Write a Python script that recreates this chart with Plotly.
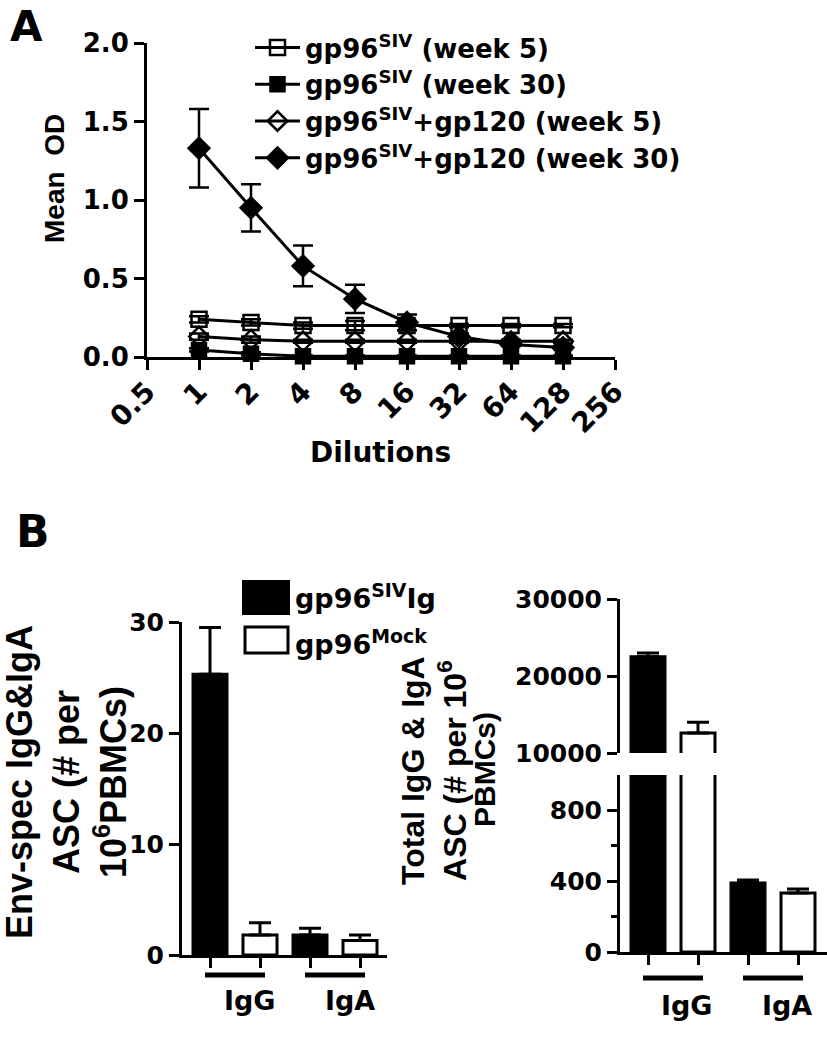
import math
import plotly.graph_objects as go

# ---------------- Panel A data ----------------
dilutions = [1, 2, 4, 8, 16, 32, 64, 128]
x_tickvals = [0.5, 1, 2, 4, 8, 16, 32, 64, 128, 256]
x_ticktext = ["0.5", "1", "2", "4", "8", "16", "32", "64", "128", "256"]
y_tickvals_a = [0.0, 0.5, 1.0, 1.5, 2.0]

siv_w5 = [0.24, 0.22, 0.20, 0.20, 0.20, 0.20, 0.20, 0.20]
siv_w5_err = [0.02, 0.02, 0.02, 0.03, 0.03, 0.01, 0.01, 0.01]
siv_w30 = [0.045, 0.02, 0.005, 0.005, 0.005, 0.005, 0.005, 0.005]
siv_w30_err = [0.01, 0.01, 0.005, 0.005, 0.005, 0.005, 0.005, 0.005]
gp120_w5 = [0.13, 0.11, 0.10, 0.10, 0.10, 0.10, 0.10, 0.10]
gp120_w5_err = [0.02, 0.02, 0.01, 0.01, 0.01, 0.01, 0.01, 0.01]
gp120_w30 = [1.33, 0.95, 0.58, 0.37, 0.22, 0.13, 0.08, 0.06]
gp120_w30_err = [0.25, 0.15, 0.13, 0.09, 0.05, 0.02, 0.01, 0.01]

legend_a = ["gp96<sup>SIV</sup> (week 5)", "gp96<sup>SIV</sup> (week 30)",
            "gp96<sup>SIV</sup>+gp120 (week 5)", "gp96<sup>SIV</sup>+gp120 (week 30)"]

# ---------------- Panel B data ----------------
categories = ["IgG", "IgA"]
env_siv = [25.3, 1.8]
env_siv_err = [4.2, 0.6]
env_mock = [1.8, 1.3]
env_mock_err = [1.1, 0.5]
tot_siv = [22500, 390]
tot_siv_err = [500, 17]
tot_mock = [12600, 333]
tot_mock_err = [1400, 23]
env_ticks = [0, 10, 20, 30]
tot_low_ticks = [0, 400, 800]
tot_low_minor = [200, 600]
tot_high_ticks = [10000, 20000, 30000]
legend_b = ["gp96<sup>SIV</sup>Ig", "gp96<sup>Mock</sup>"]

HFONT = "DejaVu Sans, Liberation Sans, Arial, sans-serif"   # horizontal text
VFONT = "Liberation Sans, Arial, sans-serif"                # rotated titles
W, H = 827, 1050


def px(x):
    return x / W


def py(y):
    return 1 - y / H


fig = go.Figure()

# ---- Panel A traces ----
series = [
    (siv_w5, siv_w5_err, "square-open", 15),
    (siv_w30, siv_w30_err, "square", 14),
    (gp120_w5, gp120_w5_err, "diamond-open", 15),
    (gp120_w30, gp120_w30_err, "diamond", 16),
]
for (vals, errs, sym, size), name in zip(series, legend_a):
    fig.add_trace(go.Scatter(
        x=dilutions, y=vals, name=name, mode="lines+markers",
        line=dict(color="black", width=3),
        marker=dict(symbol=sym, size=size, color="black",
                    line=dict(color="black", width=2.5)),
        error_y=dict(type="data", array=errs, visible=True,
                     color="black", thickness=2.5, width=10),
        xaxis="x", yaxis="y", cliponaxis=False,
    ))

# ---- Panel B left traces ----
n = len(categories)
pos_siv = [i - 0.25 for i in range(n)]
pos_mock = [i + 0.25 for i in range(n)]
bar_w = 0.34

fig.add_trace(go.Bar(
    x=pos_siv, y=env_siv, width=bar_w, showlegend=False,
    marker=dict(color="black", line=dict(color="black", width=3)),
    error_y=dict(type="data", symmetric=False, array=env_siv_err,
                 arrayminus=[0] * n, color="black", thickness=3, width=11),
    xaxis="x2", yaxis="y2"))
fig.add_trace(go.Bar(
    x=pos_mock, y=env_mock, width=bar_w, showlegend=False,
    marker=dict(color="white", line=dict(color="black", width=3)),
    error_y=dict(type="data", symmetric=False, array=env_mock_err,
                 arrayminus=[0] * n, color="black", thickness=3, width=11),
    xaxis="x2", yaxis="y2"))

# ---- Panel B right traces (broken axis: lower + upper segments) ----
for ya in ["y3", "y4"]:
    fig.add_trace(go.Bar(
        x=pos_siv, y=tot_siv, width=bar_w, showlegend=False,
        marker=dict(color="black", line=dict(color="black", width=3)),
        error_y=dict(type="data", symmetric=False, array=tot_siv_err,
                     arrayminus=[0] * n, color="black", thickness=3, width=11),
        xaxis="x3", yaxis=ya))
    fig.add_trace(go.Bar(
        x=pos_mock, y=tot_mock, width=bar_w, showlegend=False,
        marker=dict(color="white", line=dict(color="black", width=3)),
        error_y=dict(type="data", symmetric=False, array=tot_mock_err,
                     arrayminus=[0] * n, color="black", thickness=3, width=11),
        xaxis="x3", yaxis=ya))


def axis_common(size):
    return dict(showline=True, linecolor="black", linewidth=3, automargin=False,
                ticks="outside", ticklen=10, tickwidth=3, tickcolor="black",
                showgrid=False, zeroline=False,
                tickfont=dict(family=HFONT, size=size, color="black", weight="bold"))


fig.update_layout(
    template="none",
    width=W, height=H, margin=dict(l=0, r=0, t=0, b=0, autoexpand=False),
    paper_bgcolor="white", plot_bgcolor="rgba(0,0,0,0)",
    font=dict(family=HFONT, color="black", weight="bold"),
    barmode="overlay",
    xaxis=dict(domain=[px(147), px(615)], type="log", anchor="y",
               range=[math.log10(0.5), math.log10(256)],
               tickvals=x_tickvals, ticktext=x_ticktext, tickangle=-45,
               ticklabelstandoff=-6, **axis_common(28)),
    yaxis=dict(domain=[py(357), py(43)], range=[0, 2], anchor="x",
               tickvals=y_tickvals_a, tickformat=".1f", **axis_common(26)),
    xaxis2=dict(domain=[px(182), px(387)], range=[-0.53, 1.52], anchor="y2",
                tickvals=pos_siv + pos_mock, showticklabels=False, **axis_common(24)),
    yaxis2=dict(domain=[py(955), py(622)], range=[0, 30], anchor="x2",
                tickvals=env_ticks, tickformat="d", **axis_common(25)),
    xaxis3=dict(domain=[px(620), 1.0], range=[-0.53, 1.54], anchor="y3",
                tickvals=pos_siv + pos_mock, showticklabels=False, **axis_common(24)),
    yaxis3=dict(domain=[py(952), py(775)], range=[0, 1000], anchor="x3",
                tickvals=tot_low_ticks, tickformat="d",
                minor=dict(tickvals=tot_low_minor, ticklen=6, tickwidth=3,
                           tickcolor="black", ticks="outside", showgrid=False),
                **axis_common(25)),
    yaxis4=dict(domain=[py(753), py(599)], range=[10000, 30000], anchor="x3",
                tickvals=tot_high_ticks, tickformat="d", **axis_common(25)),
    legend=dict(x=px(250), y=py(24), xanchor="left", yanchor="top",
                bgcolor="rgba(0,0,0,0)", itemwidth=45, tracegroupgap=0,
                font=dict(family=HFONT, size=26, color="black", weight="bold")),
)

annotations = []


def ann(text, x, y, size, angle=0, xanchor="center", yanchor="middle",
        xref="paper", yref="paper", xshift=0, family=HFONT):
    annotations.append(dict(text=text, x=x, y=y, xref=xref, yref=yref,
                            showarrow=False, textangle=angle,
                            xanchor=xanchor, yanchor=yanchor, xshift=xshift,
                            font=dict(family=family, size=size, color="black", weight="bold")))


ann("A", px(8), py(0), 42, xanchor="left", yanchor="top")
ann("B", px(14), py(504), 44, xanchor="left", yanchor="top")
ann("Mean\u00a0 OD", px(55), py(179), 28, angle=-90, family=VFONT)
ann("Dilutions", px(380), py(452), 28)
ann("Env-spec IgG&amp;IgA<br>ASC (# per<br>10<sup>6</sup>PBMCs)", px(66), py(782), 36,
    angle=-90, family=VFONT)
ann("Total IgG &amp; IgA<br>ASC (# per 10<sup>6</sup>", px(434), py(770), 32,
    angle=-90, family=VFONT)
ann("PBMCs)", px(484), py(769), 30, angle=-90, family=VFONT)

# group labels under the bars
for i, cat in enumerate(categories):
    ann(cat, i, py(1000), 27, xref="x2", xshift=15)
    ann(cat, i, py(1005), 27, xref="x3", xshift=14)

# panel B legend text
ann(legend_b[0], px(293), py(596), 27, xanchor="left")
ann(legend_b[1], px(293), py(642), 27, xanchor="left")

shapes = []
# group underlines
for i in range(n):
    shapes.append(dict(type="line", xref="x2", yref="paper",
                       x0=pos_siv[i] - 0.05, x1=pos_mock[i] + 0.05,
                       y0=py(975), y1=py(975), line=dict(color="black", width=5)))
    shapes.append(dict(type="line", xref="x3", yref="paper",
                       x0=pos_siv[i] - 0.05, x1=pos_mock[i] + 0.05,
                       y0=py(978), y1=py(978), line=dict(color="black", width=5)))
# panel B legend swatches
shapes.append(dict(type="rect", xref="paper", yref="paper",
                   x0=px(243), x1=px(289), y0=py(614), y1=py(581),
                   fillcolor="black", line=dict(color="black", width=2)))
shapes.append(dict(type="rect", xref="paper", yref="paper",
                   x0=px(245), x1=px(288), y0=py(653), y1=py(627),
                   fillcolor="white", line=dict(color="black", width=3)))

fig.update_layout(annotations=annotations, shapes=shapes)
fig.write_html("out.html", config={"displayModeBar": False},
               post_script="document.body.style.margin='0';document.body.style.overflow='hidden';")
